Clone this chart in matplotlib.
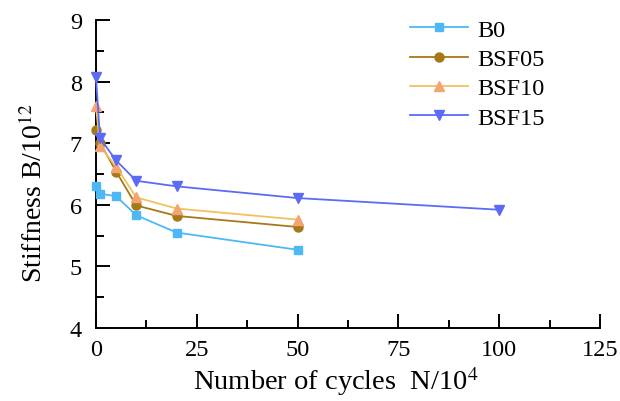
import matplotlib.pyplot as plt
from matplotlib.ticker import MultipleLocator

# cycles (x 10^4) and stiffness (x 10^12)
cycles = [0, 1, 5, 10, 20, 50]
cycles_bsf15 = [0, 1, 5, 10, 20, 50, 100]
b0 = [6.30, 6.18, 6.14, 5.83, 5.55, 5.27]
bsf05 = [7.21, 7.01, 6.54, 5.99, 5.82, 5.64]
bsf10 = [7.60, 6.95, 6.62, 6.12, 5.94, 5.76]
bsf15 = [8.07, 7.08, 6.72, 6.39, 6.30, 6.11, 5.92]

plt.rcParams['font.family'] = ['Liberation Serif', 'DejaVu Serif']
plt.rcParams['mathtext.fontset'] = 'stix'

fig = plt.figure(figsize=(6.2, 4.02), dpi=100)
ax = fig.add_axes([0.1548, 0.1816, 0.8129, 0.766])

ax.plot(cycles, b0, '-s', color='#4db8f5', mfc='#4db8f5', mec='#4db8f5',
        ms=5.5, lw=1.3, label='B0', clip_on=False, zorder=3)
ax.plot(cycles, bsf05, '-o', color='#a57818', mfc='#a57818', mec='#a57818',
        ms=6.5, lw=1.3, label='BSF05', clip_on=False, zorder=3)
ax.plot(cycles, bsf10, '-^', color='#f2c15e', mfc='#f4a470', mec='#f4a470',
        ms=7, lw=1.3, label='BSF10', clip_on=False, zorder=3)
ax.plot(cycles_bsf15, bsf15, '-v', color='#5b6bf5', mfc='#5b6bf5', mec='#5b6bf5',
        ms=7, lw=1.3, label='BSF15', clip_on=False, zorder=4)

ax.set_xlim(0, 125)
ax.set_ylim(4, 9)
ax.xaxis.set_major_locator(MultipleLocator(25))
ax.xaxis.set_minor_locator(MultipleLocator(12.5))
ax.yaxis.set_major_locator(MultipleLocator(1))
ax.yaxis.set_minor_locator(MultipleLocator(0.5))

for s in ['top', 'right']:
    ax.spines[s].set_visible(False)
for s in ['left', 'bottom']:
    ax.spines[s].set_linewidth(1.4)

ax.tick_params(which='major', direction='in', length=10, width=1.4, labelsize=17.5)
ax.tick_params(axis='x', which='major', pad=8)
ax.tick_params(axis='y', which='major', pad=10)
ax.tick_params(which='minor', direction='in', length=6, width=1.4)

ax.set_xlabel('Number of cycles  N/10$^{4}$', fontsize=20.5, va='baseline')
ax.xaxis.set_label_coords(0.476, -0.198)
ax.set_ylabel('Stiffness B/10$^{12}$', fontsize=20)
ax.yaxis.set_label_coords(-0.095, 0.44)

ax.legend(loc='upper left', bbox_to_anchor=(0.579, 1.075), frameon=False,
          fontsize=17.5, handlelength=2.4, handletextpad=0.4, labelspacing=0.3)

fig.savefig('out.png', dpi=100)
